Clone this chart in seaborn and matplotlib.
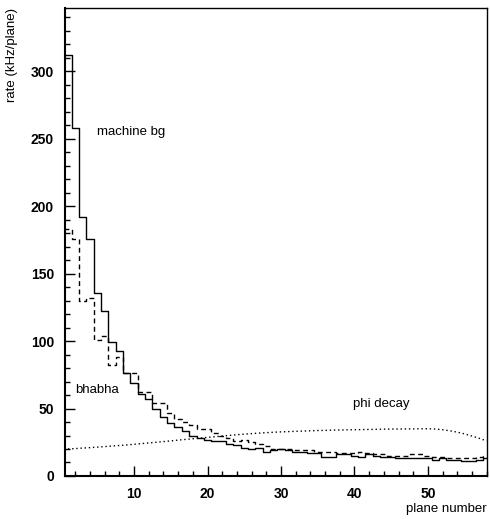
import numpy as np
import pandas as pd
import matplotlib
matplotlib.use("Agg")
import matplotlib.pyplot as plt
import seaborn as sns
from matplotlib.ticker import MultipleLocator

# plane index (bin centres)
planes = list(range(1, 59))

# machine background rate per plane (kHz)
machine_bg = [312, 258, 192, 176, 136, 122, 99, 93, 76, 69,
              61, 57, 50, 44, 39, 36, 33, 30, 28, 27,
              26, 26, 24, 23, 21, 20, 21, 18, 19, 20,
              19, 18, 18, 17, 17, 14, 14, 16, 16, 15,
              14, 16, 15, 14, 14, 13, 13, 13, 13, 13,
              12, 13, 12, 12, 11, 11, 12, 13]

# bhabha rate per plane (kHz)
bhabha = [183, 176, 130, 132, 101, 104, 82, 88, 76, 76,
          62, 62, 54, 54, 47, 42, 40, 38, 35, 35,
          32, 30, 28, 26, 27, 25, 24, 22, 20, 20,
          20, 19, 19, 19, 18, 18, 18, 17, 17, 17,
          18, 17, 16, 16, 15, 15, 15, 16, 16, 15,
          14, 14, 13, 13, 13, 13, 14, 15]

# phi decay rate per plane (kHz)
phi_decay = [20.0, 20.3, 20.7, 21.0, 21.4, 21.8, 22.2, 22.6, 23.0, 23.5,
             24.0, 24.5, 25.0, 25.5, 26.0, 26.6, 27.1, 27.6, 28.1, 28.6,
             29.1, 29.6, 30.1, 30.6, 31.0, 31.4, 31.8, 32.1, 32.4, 32.7,
             32.9, 33.1, 33.3, 33.5, 33.7, 33.8, 34.0, 34.1, 34.2, 34.3,
             34.4, 34.5, 34.6, 34.7, 34.8, 34.8, 34.9, 34.9, 35.0, 35.0,
             34.8, 34.3, 33.5, 32.5, 31.2, 29.6, 27.9, 26.0]

x_ticks = [10, 20, 30, 40, 50]
y_ticks = [0, 50, 100, 150, 200, 250, 300]

df = pd.DataFrame({"plane": planes, "machine": machine_bg,
                   "bhabha": bhabha, "phi": phi_decay})

sns.set_style("ticks", {"text.color": "black", "xtick.color": "black",
                        "ytick.color": "black", "axes.labelcolor": "black",
                        "axes.edgecolor": "black"})
plt.rcParams["font.family"] = ["Liberation Sans", "DejaVu Sans"]

fig = plt.figure(figsize=(4.9, 5.19), dpi=100)
ax = fig.add_axes([0.1327, 0.0829, 0.8612, 0.9017])

sns.histplot(data=df, x="plane", weights="machine", binwidth=1,
             binrange=(0.5, 58.5), element="step", fill=False,
             color="black", linewidth=1.0, ax=ax)
sns.histplot(data=df, x="plane", weights="bhabha", binwidth=1,
             binrange=(0.5, 58.5), element="step", fill=False,
             color="black", linewidth=1.0, linestyle=(0, (3.5, 2.5)), ax=ax)
sns.lineplot(data=df, x="plane", y="phi", color="black", linewidth=1.0,
             linestyle=(0, (1, 2)), ax=ax)

ax.set_xlim(0.6, 58.05)
ax.set_ylim(0, 347)
ax.set_xticks(x_ticks)
ax.set_yticks(y_ticks)
ax.xaxis.set_minor_locator(MultipleLocator(2))
ax.yaxis.set_minor_locator(MultipleLocator(10))
ax.tick_params(axis="both", which="major", direction="in", length=7,
               width=1.0, color="black", labelcolor="black",
               labelsize=10, pad=8)
ax.tick_params(axis="both", which="minor", direction="in", length=3.5,
               width=1.0, color="black")
ax.tick_params(top=False, right=False)
for lab in ax.get_xticklabels() + ax.get_yticklabels():
    lab.set_fontweight("bold")

for side in ["left", "bottom"]:
    ax.spines[side].set_linewidth(1.5)
for side in ["top", "right"]:
    ax.spines[side].set_linewidth(1.0)

ax.set_xlabel("")
ax.set_ylabel("")
fig.text(0.994, 0.008, "plane number", ha="right", va="bottom",
         fontsize=9.5, color="black")
fig.text(0.012, 0.985, "rate (kHz/plane)", ha="left", va="top",
         rotation=90, fontsize=9.5, color="black")

ax.text(5.0, 255, "machine bg", fontsize=9.5, va="center", color="black")
ax.text(2.0, 64, "bhabha", fontsize=9.5, va="center", color="black")
ax.text(39.8, 53, "phi decay", fontsize=9.5, va="center", color="black")

fig.savefig("out.png", dpi=100)
